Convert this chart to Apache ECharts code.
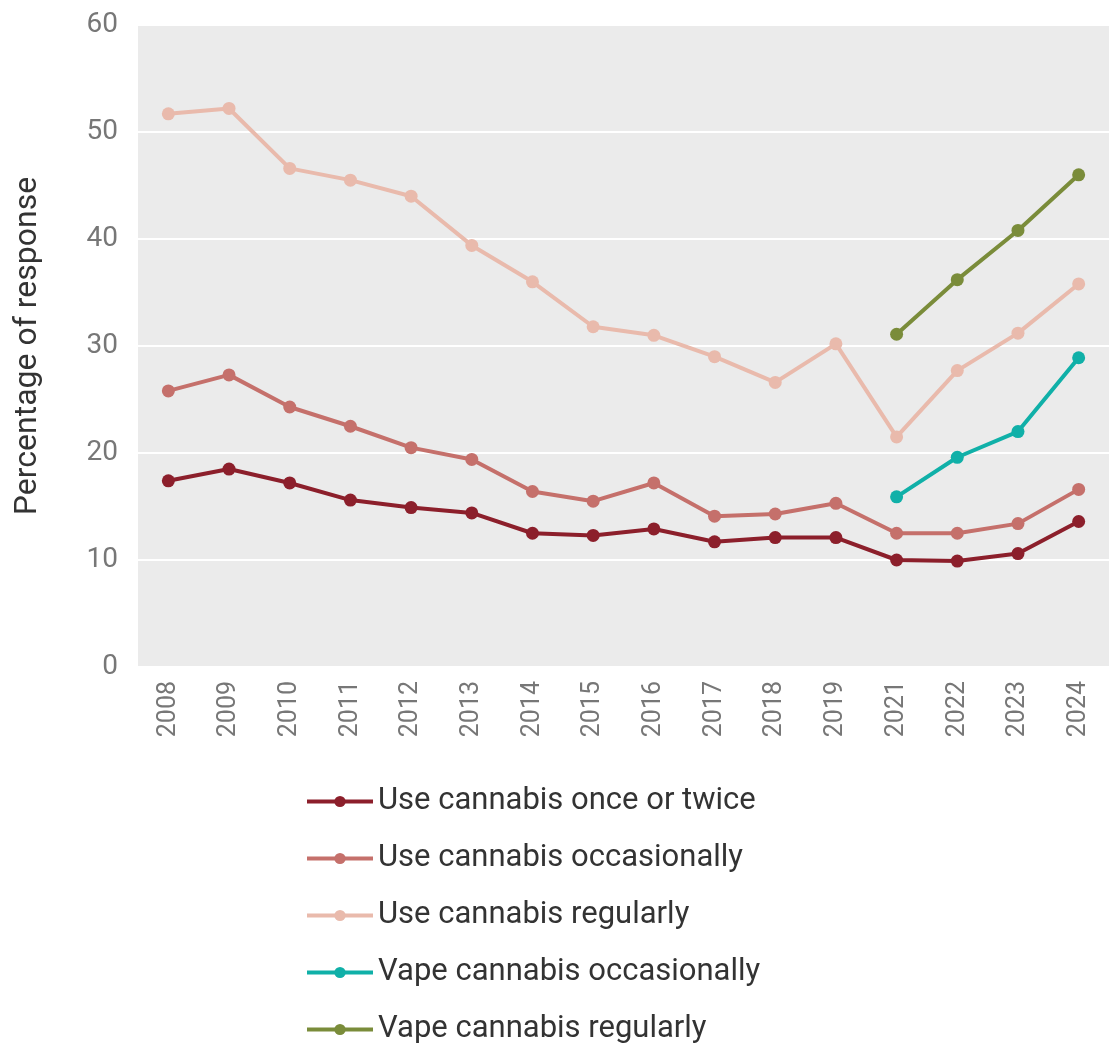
<!DOCTYPE html>
<html>
<head>
<meta charset="utf-8">
<script src="https://cdn.jsdelivr.net/npm/echarts@6/dist/echarts.min.js"></script>
<style>
  html, body { margin: 0; padding: 0; background: #fff; }
  #chart { width: 1114px; height: 1049px; }
</style>
</head>
<body>
<div id="chart"></div>
<script>
const years = ['2008', '2009', '2010', '2011', '2012', '2013', '2014', '2015',
  '2016', '2017', '2018', '2019', '2021', '2022', '2023', '2024'];
const onceTwice = [17.4, 18.5, 17.2, 15.6, 14.9, 14.4, 12.5, 12.3, 12.9, 11.7, 12.1, 12.1, 10.0, 9.9, 10.6, 13.6];
const occasionally = [25.8, 27.3, 24.3, 22.5, 20.5, 19.4, 16.4, 15.5, 17.2, 14.1, 14.3, 15.3, 12.5, 12.5, 13.4, 16.6];
const regularly = [51.7, 52.2, 46.6, 45.5, 44.0, 39.4, 36.0, 31.8, 31.0, 29.0, 26.6, 30.2, 21.5, 27.7, 31.2, 35.8];
const vapeOccasionally = [null, null, null, null, null, null, null, null, null, null, null, null, 15.9, 19.6, 22.0, 28.9];
const vapeRegularly = [null, null, null, null, null, null, null, null, null, null, null, null, 31.1, 36.2, 40.8, 46.0];

const font = '"Roboto", sans-serif';

function line(name, data, color) {
  return {
    name: name,
    type: 'line',
    data: data,
    symbol: 'circle',
    symbolSize: 13,
    itemStyle: { color: color },
    lineStyle: { color: color, width: 4 },
    emphasis: { disabled: true },
    z: 3
  };
}

const chart = echarts.init(document.getElementById('chart'));
chart.setOption({
  animation: false,
  grid: {
    left: 138, right: 5, top: 25, bottom: 382,
    show: true, backgroundColor: '#ebebeb', borderWidth: 0
  },
  legend: {
    orient: 'vertical',
    left: 300,
    top: 781,
    height: 290,
    itemWidth: 66,
    itemHeight: 14,
    itemGap: 26,
    lineStyle: { width: 4 },
    textStyle: { fontFamily: font, fontSize: 31, color: '#333' },
    data: ['Use cannabis once or twice', 'Use cannabis occasionally', 'Use cannabis regularly',
      'Vape cannabis occasionally', 'Vape cannabis regularly']
  },
  xAxis: {
    type: 'category',
    data: years,
    boundaryGap: true,
    axisLine: { show: false },
    axisTick: { show: false },
    axisLabel: { rotate: 90, fontFamily: font, fontSize: 25, color: '#777', margin: 14 }
  },
  yAxis: {
    type: 'value',
    min: 0, max: 60, interval: 10,
    name: 'Percentage of response',
    nameLocation: 'middle',
    nameGap: 94,
    nameTextStyle: { fontFamily: font, fontSize: 32, color: '#333' },
    axisLine: { show: false },
    axisTick: { show: false },
    axisLabel: { fontFamily: font, fontSize: 28, color: '#777', margin: 20 },
    splitLine: { lineStyle: { color: '#ffffff', width: 2 } }
  },
  series: [
    line('Use cannabis once or twice', onceTwice, '#8c1f2b'),
    line('Use cannabis occasionally', occasionally, '#c5706b'),
    line('Use cannabis regularly', regularly, '#e9baac'),
    line('Vape cannabis occasionally', vapeOccasionally, '#10b0a8'),
    line('Vape cannabis regularly', vapeRegularly, '#7a8c3a')
  ]
});
</script>
</body>
</html>
